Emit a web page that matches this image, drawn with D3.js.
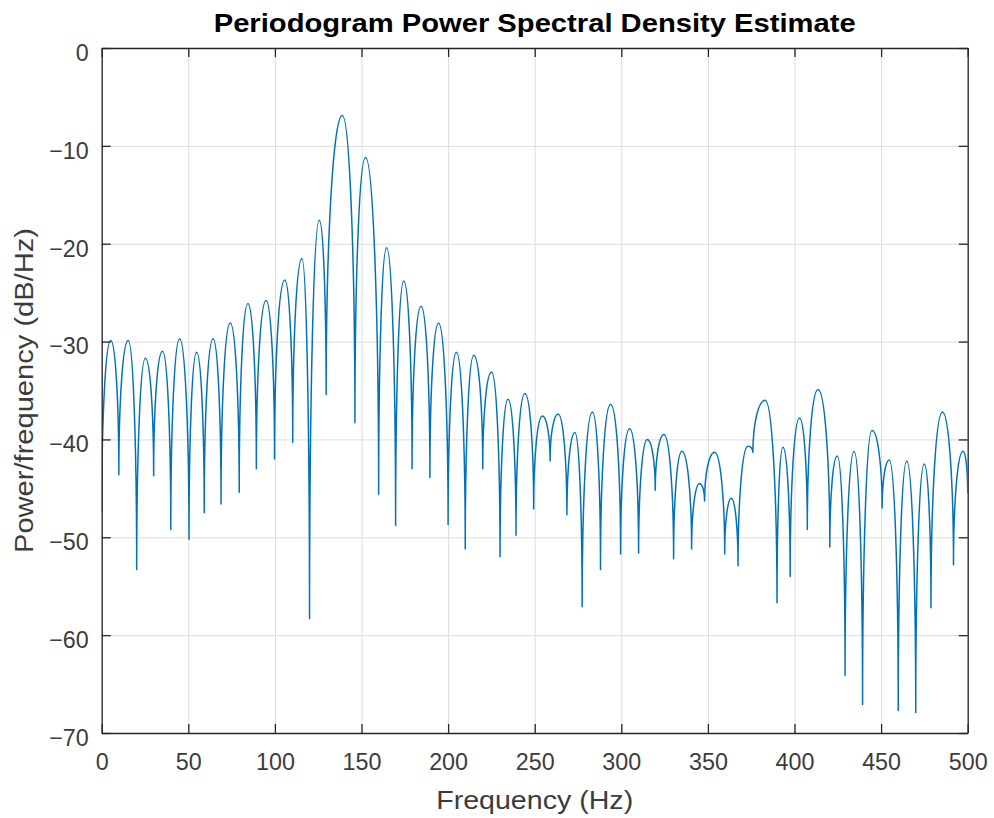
<!DOCTYPE html>
<html>
<head>
<meta charset="utf-8">
<script src="https://cdn.jsdelivr.net/npm/d3@7"></script>
<style>
  html, body { margin: 0; padding: 0; background: #fff; }
  svg { display: block; font-family: "Liberation Sans", Arial, Helvetica, sans-serif; }
</style>
</head>
<body>
<div id="chart"></div>
<script>
// Periodogram PSD estimate - lobe peaks and nulls
const freqHz = [
    0, 5.2, 9.9, 15.3, 20.2, 25.2, 30.0, 35.1, 39.9, 45.0,
    50.4, 54.8, 59.2, 64.3, 68.9, 74.2, 79.4, 84.4, 89.3, 94.9,
    99.8, 105.7, 110.3, 115.6, 120.0, 125.6, 129.6, 138.9, 146.2, 152.3,
    159.9, 164.5, 169.7, 174.4, 179.2, 184.4, 189.5, 194.5, 200.0, 204.8,
    209.9, 214.8, 220.0, 225.1, 230.0, 234.6, 239.2, 244.3, 249.4, 254.4,
    258.9, 263.5, 268.6, 273.2, 277.4, 283.3, 288.0, 293.8, 299.6, 304.8,
    310.0, 315.0, 319.6, 324.6, 330.2, 335.0, 340.6, 345.2, 348.1, 353.9,
    359.7, 363.5, 367.4, 373.1, 376.0, 383.1, 389.9, 393.3, 397.5, 402.9,
    407.4, 413.6, 420.4, 424.7, 429.2, 434.4, 439.3, 444.7, 450.6, 454.7,
    459.9, 464.8, 470.0, 474.9, 478.8, 485.4, 491.8, 497.3, 500.0
];
const powerDb = [
    -47.5, -29.9, -43.6, -29.9, -53.3, -31.7, -43.7, -31.0, -49.2, -29.7,
    -50.2, -31.1, -47.5, -29.7, -46.6, -28.1, -45.4, -26.1, -43.0, -25.8,
    -42.0, -23.7, -40.3, -21.5, -58.3, -17.6, -35.4, -6.9, -38.3, -11.2,
    -45.6, -20.4, -48.8, -23.8, -43.0, -26.4, -43.9, -28.1, -48.7, -31.1,
    -51.2, -31.4, -43.0, -33.1, -52.0, -35.9, -49.8, -35.3, -47.1, -37.6,
    -42.2, -37.4, -47.7, -39.3, -57.1, -37.2, -53.3, -36.4, -51.7, -38.9,
    -51.6, -40.0, -45.2, -39.5, -52.2, -41.2, -51.2, -44.5, -46.3, -41.3,
    -51.7, -46.0, -52.9, -40.7, -41.3, -36.0, -56.7, -40.8, -54.0, -37.8,
    -49.2, -34.9, -51.0, -41.7, -64.1, -41.2, -67.1, -39.1, -47.0, -42.1,
    -67.7, -42.2, -67.9, -42.5, -57.2, -37.2, -52.8, -41.2, -45.5
];
const xTicks = [0, 50, 100, 150, 200, 250, 300, 350, 400, 450, 500];
const yTicks = [-70, -60, -50, -40, -30, -20, -10, 0];

const chartTitle = "Periodogram Power Spectral Density Estimate";
const xLabel = "Frequency (Hz)";
const yLabel = "Power/frequency (dB/Hz)";

const data = freqHz.map((f, i) => ({ f: f, db: powerDb[i] }));

const W = 994, H = 818;
const margin = { top: 48, right: 26.3, bottom: 85, left: 101.7 };
const width = W - margin.left - margin.right;
const height = H - margin.top - margin.bottom;

const axisColor = "#262626";
const textColor = "#3c3c3c";
const tickFont = 23.3;
const labelFont = 25.6;

// Curve: rounded lobe tops, sharp cusps at the nulls (quarter-ellipse segments)
function lobeCurve(context) {
    let pts = [];
    return {
        areaStart() {}, areaEnd() {},
        lineStart() { pts = []; },
        point(x, y) { pts.push([+x, +y]); },
        lineEnd() {
            const n = pts.length;
            if (!n) return;
            const isTop = i => {
                const y = pts[i][1];
                const a = i > 0 ? pts[i - 1][1] : Infinity;
                const b = i < n - 1 ? pts[i + 1][1] : Infinity;
                return y <= a && y <= b;
            };
            const k = 0.5523;
            context.moveTo(pts[0][0], pts[0][1]);
            for (let i = 1; i < n; i++) {
                const [x0, y0] = pts[i - 1], [x1, y1] = pts[i];
                const c1 = isTop(i - 1) ? [x0 + k * (x1 - x0), y0] : [x0, y0 + k * (y1 - y0)];
                const c2 = isTop(i) ? [x1 - k * (x1 - x0), y1] : [x1, y1 - k * (y1 - y0)];
                context.bezierCurveTo(c1[0], c1[1], c2[0], c2[1], x1, y1);
            }
        }
    };
}

const svgRoot = d3.select("#chart")
    .append("svg")
    .attr("width", W)
    .attr("height", H);

svgRoot.append("rect").attr("width", W).attr("height", H).attr("fill", "#fff");

const svg = svgRoot.append("g")
    .attr("transform", `translate(${margin.left},${margin.top})`);

const x = d3.scaleLinear().domain([0, 500]).range([0, width]);
const y = d3.scaleLinear().domain([-70, 0]).range([height, 0]);

// grid
svg.append("g")
    .call(d3.axisBottom(x).tickValues(xTicks).tickSize(height).tickFormat(""))
    .call(g => g.select(".domain").remove())
    .call(g => g.selectAll("line").attr("stroke", "#dcdcdc").attr("stroke-width", 1));

svg.append("g")
    .call(d3.axisRight(y).tickValues(yTicks).tickSize(width).tickFormat(""))
    .call(g => g.select(".domain").remove())
    .call(g => g.selectAll("line").attr("stroke", "#dcdcdc").attr("stroke-width", 1));

// data line
svg.append("clipPath").attr("id", "plot-clip")
    .append("rect").attr("width", width).attr("height", height);

const line = d3.line()
    .x(d => x(d.f))
    .y(d => y(d.db))
    .curve(lobeCurve);

svg.append("path")
    .datum(data)
    .attr("clip-path", "url(#plot-clip)")
    .attr("fill", "none")
    .attr("stroke", "#0072BD")
    .attr("stroke-width", 1.5)
    .attr("stroke-linejoin", "round")
    .attr("d", line);

// axes (box with inward ticks on all sides)
const minus = d => d < 0 ? "\u2212" + Math.abs(d) : String(d);

const styleAxis = g => {
    g.attr("color", axisColor)
     .attr("font-family", null)
     .attr("font-size", tickFont);
    g.selectAll("path, line").attr("stroke-width", 1.3);
    g.selectAll("text").attr("fill", textColor);
};

svg.append("g")
    .attr("transform", `translate(0,${height})`)
    .call(d3.axisBottom(x).tickValues(xTicks).tickSizeInner(-9).tickSizeOuter(0).tickPadding(20))
    .call(styleAxis);

svg.append("g")
    .call(d3.axisLeft(y).tickValues(yTicks).tickFormat(minus).tickSizeInner(-9).tickSizeOuter(0).tickPadding(13))
    .call(styleAxis)
    .call(g => g.selectAll("text").attr("dy", 12.4));

svg.append("g")
    .call(d3.axisTop(x).tickValues(xTicks).tickSizeInner(-9).tickSizeOuter(0).tickFormat(""))
    .call(styleAxis);

svg.append("g")
    .attr("transform", `translate(${width},0)`)
    .call(d3.axisRight(y).tickValues(yTicks).tickSizeInner(-9).tickSizeOuter(0).tickFormat(""))
    .call(styleAxis);

// title and labels
svgRoot.append("text")
    .attr("x", margin.left + width / 2)
    .attr("y", 32)
    .attr("text-anchor", "middle")
    .attr("font-size", labelFont)
    .attr("font-weight", "bold")
    .attr("fill", "#000")
    .attr("textLength", 642)
    .attr("lengthAdjust", "spacingAndGlyphs")
    .text(chartTitle);

svgRoot.append("text")
    .attr("x", margin.left + width / 2)
    .attr("y", 809)
    .attr("text-anchor", "middle")
    .attr("font-size", labelFont)
    .attr("fill", textColor)
    .attr("textLength", 197)
    .attr("lengthAdjust", "spacingAndGlyphs")
    .text(xLabel);

svgRoot.append("text")
    .attr("transform", `translate(33,${margin.top + height / 2}) rotate(-90)`)
    .attr("text-anchor", "middle")
    .attr("font-size", labelFont)
    .attr("fill", textColor)
    .attr("textLength", 325)
    .attr("lengthAdjust", "spacingAndGlyphs")
    .text(yLabel);
</script>
</body>
</html>
